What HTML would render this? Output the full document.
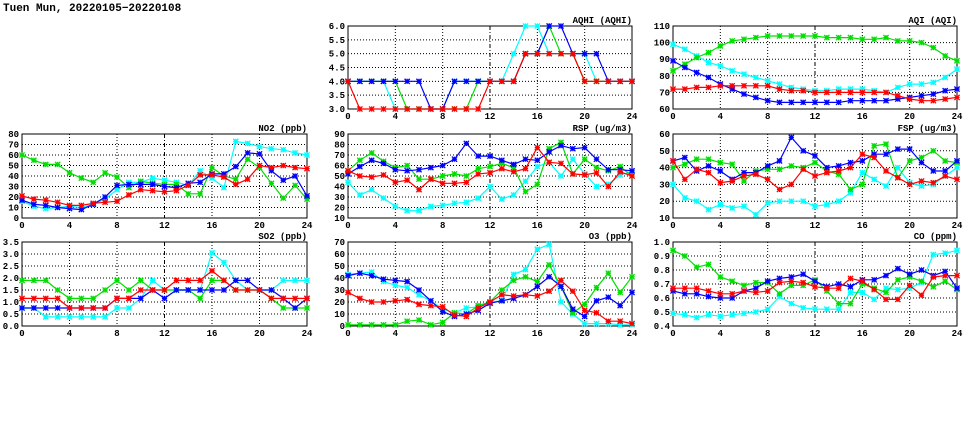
<!DOCTYPE html>
<html><head><meta charset="utf-8"><style>
body{margin:0;background:#fff;}
svg{display:block;font-family:"Liberation Mono",monospace;}
</style></head><body>
<svg id="c" width="975" height="447" viewBox="0 0 975 447" xmlns="http://www.w3.org/2000/svg">
<rect width="975" height="447" fill="#fff"/>
<text x="3" y="11" font-size="11" font-weight="bold">Tuen Mun, 20220105−20220108</text>
</svg>
<script>
const hours=[0,1,2,3,4,5,6,7,8,9,10,11,12,13,14,15,16,17,18,19,20,21,22,23,24];
const xTicks=[0,4,8,12,16,20,24];
const seriesNames=['cyan','green','blue','red'];
const aqhiCyan=[4,4,4,4,3,3,3,3,3,4,4,4,4,4,5,6,6,5,5,5,5,4,4,4,4];
const aqhiGreen=[4,4,4,4,4,3,3,3,3,3,3,4,4,4,4,5,5,6,5,5,4,4,4,4,4];
const aqhiBlue=[4,4,4,4,4,4,4,3,3,4,4,4,4,4,4,5,5,6,6,5,5,5,4,4,4];
const aqhiRed=[4,3,3,3,3,3,3,3,3,3,3,3,4,4,4,5,5,5,5,5,4,4,4,4,4];
const aqiCyan=[99,96,92,88,86,83,81,79,77,75,73,72,71,71,72,72,72,71,70,73,75,75,76,79,84];
const aqiGreen=[83,87,91,94,98,101,102,103,104,104,104,104,104,103,103,103,102,102,103,101,101,100,97,92,89];
const aqiBlue=[89,85,82,79,75,72,69,67,65,64,64,64,64,64,64,65,65,65,65,66,67,68,69,71,72];
const aqiRed=[72,72,73,73,74,74,74,74,74,72,71,71,70,70,70,70,70,70,70,68,66,65,65,66,67];
const no2Cyan=[16,11,9,10,11,10,13,18,27,34,34,38,36,34,31,45,38,29,73,71,68,66,65,62,60];
const no2Green=[60,55,51,51,43,38,34,43,39,29,35,33,32,32,23,23,48,40,37,56,48,33,19,31,18];
const no2Blue=[17,13,12,10,9,8,13,20,31,32,32,32,30,29,33,34,42,42,49,62,61,45,36,40,21];
const no2Red=[21,18,17,15,12,12,14,15,16,22,27,26,25,26,31,41,41,39,32,37,50,48,50,48,47];
const rspCyan=[44,32,37,29,21,17,17,21,22,24,25,29,40,28,32,45,59,63,50,66,52,40,42,51,54];
const rspGreen=[55,65,72,64,58,60,47,47,50,52,50,57,59,62,58,35,42,76,82,52,66,58,55,59,50];
const rspBlue=[52,59,65,62,56,55,56,58,60,66,81,69,69,65,61,66,65,73,79,76,77,66,56,56,55];
const rspRed=[55,50,49,51,44,46,37,47,43,43,44,52,53,57,54,57,77,63,62,52,51,53,40,54,50];
const fspCyan=[30,22,20,15,18,16,17,12,19,20,20,20,17,18,20,25,37,33,29,40,31,29,30,35,40];
const fspGreen=[40,42,45,45,43,42,32,38,39,39,41,40,43,38,36,27,30,53,54,34,44,46,50,44,43];
const fspBlue=[44,46,38,41,38,33,37,37,41,44,58,50,47,40,41,43,44,48,48,51,51,43,38,38,44];
const fspRed=[44,33,39,37,31,32,35,36,33,27,30,39,35,37,38,40,48,46,38,34,30,32,31,35,33];
const so2Cyan=[0.75,0.75,0.38,0.38,0.38,0.38,0.38,0.38,0.75,0.75,1.15,1.9,1.5,1.5,1.5,1.5,3.05,2.65,1.9,1.5,1.5,1.5,1.9,1.9,1.9];
const so2Green=[1.9,1.9,1.9,1.5,1.15,1.15,1.15,1.5,1.9,1.5,1.9,1.5,1.5,1.5,1.5,1.15,1.9,1.9,1.5,1.5,1.5,1.15,0.75,0.75,0.75];
const so2Blue=[0.75,0.75,0.75,0.75,0.75,0.75,0.75,0.75,1.15,1.15,1.15,1.5,1.15,1.5,1.5,1.5,1.5,1.5,1.9,1.9,1.5,1.5,1.15,0.75,1.15];
const so2Red=[1.15,1.15,1.15,1.15,0.75,0.75,0.75,0.75,1.15,1.15,1.5,1.5,1.5,1.9,1.9,1.9,2.3,1.9,1.5,1.5,1.5,1.15,1.15,1.15,1.15];
const o3Cyan=[43,44,45,37,34,32,26,21,14,11,15,16,20,21,43,47,64,68,20,10,2,2,2,1,1];
const o3Green=[1,1,1,1,1,4,5,1,3,11,10,17,20,30,38,41,37,51,33,11,18,32,44,28,41];
const o3Blue=[42,44,42,39,38,37,30,21,12,8,10,13,19,21,23,26,33,41,33,14,8,21,24,17,28];
const o3Red=[28,23,20,20,21,22,18,17,16,9,8,15,20,26,25,26,25,29,38,29,13,11,4,4,2];
const coCyan=[.49,.48,.46,.48,.47,.48,.49,.50,.52,.61,.56,.53,.52,.52,.52,.64,.64,.59,.67,.66,.67,.71,.91,.92,.94];
const coGreen=[.94,.90,.82,.84,.75,.72,.69,.71,.71,.63,.69,.69,.73,.65,.56,.56,.70,.67,.64,.73,.75,.72,.68,.72,.66];
const coBlue=[.65,.63,.63,.61,.60,.60,.65,.67,.72,.74,.75,.77,.72,.68,.70,.68,.73,.73,.76,.81,.77,.80,.76,.79,.67];
const coRed=[.67,.67,.67,.65,.63,.63,.65,.64,.65,.71,.72,.71,.68,.67,.67,.74,.72,.66,.59,.59,.69,.62,.75,.76,.76];
const aqhiTicks=[3,3.5,4,4.5,5,5.5,6];
const aqiTicks=[60,70,80,90,100,110];
const no2Ticks=[0,10,20,30,40,50,60,70,80];
const rspTicks=[10,20,30,40,50,60,70,80,90];
const fspTicks=[10,20,30,40,50,60];
const so2Ticks=[0,0.5,1,1.5,2,2.5,3,3.5];
const o3Ticks=[0,10,20,30,40,50,60,70];
const coTicks=[0.4,0.5,0.6,0.7,0.8,0.9,1.0];

const colors={cyan:'#00ffff',green:'#00e000',blue:'#0000ff',red:'#ff0000'};
const NS='http://www.w3.org/2000/svg';
const svg=document.getElementById('c');
function mk(tag,attrs,parent){const e=document.createElementNS(NS,tag);for(const k in attrs)e.setAttribute(k,attrs[k]);(parent||svg).appendChild(e);return e;}

const panels=[
 {id:'aqhi',title:'AQHI (AQHI)',x0:348,x1:632,y0:26,y1:109,ticks:aqhiTicks,dec:1,data:[aqhiCyan,aqhiGreen,aqhiBlue,aqhiRed]},
 {id:'aqi',title:'AQI (AQI)',x0:673,x1:957,y0:26,y1:109,ticks:aqiTicks,dec:0,data:[aqiCyan,aqiGreen,aqiBlue,aqiRed]},
 {id:'no2',title:'NO2 (ppb)',x0:22,x1:307,y0:134,y1:218,ticks:no2Ticks,dec:0,data:[no2Cyan,no2Green,no2Blue,no2Red]},
 {id:'rsp',title:'RSP (ug/m3)',x0:348,x1:632,y0:134,y1:218,ticks:rspTicks,dec:0,data:[rspCyan,rspGreen,rspBlue,rspRed]},
 {id:'fsp',title:'FSP (ug/m3)',x0:673,x1:957,y0:134,y1:218,ticks:fspTicks,dec:0,data:[fspCyan,fspGreen,fspBlue,fspRed]},
 {id:'so2',title:'SO2 (ppb)',x0:22,x1:307,y0:242,y1:326,ticks:so2Ticks,dec:1,data:[so2Cyan,so2Green,so2Blue,so2Red]},
 {id:'o3',title:'O3 (ppb)',x0:348,x1:632,y0:242,y1:326,ticks:o3Ticks,dec:0,data:[o3Cyan,o3Green,o3Blue,o3Red]},
 {id:'co',title:'CO (ppm)',x0:673,x1:957,y0:242,y1:326,ticks:coTicks,dec:1,data:[coCyan,coGreen,coBlue,coRed]}
];

panels.forEach(p=>{
 const g=mk('g',{});
 
 
 const ymin=p.ticks[0],ymax=p.ticks[p.ticks.length-1];
 const X=h=>p.x0+(h-0)/24*(p.x1-p.x0);
 const Y=v=>p.y1-(v-ymin)/(ymax-ymin)*(p.y1-p.y0);
 // grid
 xTicks.forEach(t=>{
  if(t>0&&t<24){const l=mk('line',{x1:X(t),x2:X(t),y1:p.y0,y2:p.y1,stroke:'#000','stroke-width':1,'stroke-dasharray':t===12?'4,2,1,2':'1,2'},g);
   
   }
  const tx=mk('text',{x:X(t),y:p.y1+10,'font-size':9,'font-weight':'bold','text-anchor':'middle'},g);
  tx.textContent=t;
  
  
 });
 p.ticks.forEach(t=>{
  if(t>ymin&&t<ymax){const l=mk('line',{x1:p.x0,x2:p.x1,y1:Y(t),y2:Y(t),stroke:'#000','stroke-width':1,'stroke-dasharray':'1,2'},g);
   
   }
  const tx=mk('text',{x:p.x0-3,y:Y(t)+3,'font-size':9,'font-weight':'bold','text-anchor':'end'},g);
  tx.textContent=t.toFixed(p.dec);
  
  
 });
 const fr=mk('rect',{x:p.x0,y:p.y0,width:p.x1-p.x0,height:p.y1-p.y0,fill:'none',stroke:'#000','stroke-width':1},g);
 
 
 const tt=mk('text',{x:p.x1,y:p.y0-3,'font-size':9,'font-weight':'bold','text-anchor':'end'},g);
 tt.textContent=p.title;
 
 
 p.data.forEach((arr,si)=>{
  const c=colors[seriesNames[si]];
  const pts=arr.map((v,i)=>X(hours[i]).toFixed(1)+','+Y(v).toFixed(1)).join(' ');
  const pl=mk('polyline',{points:pts,fill:'none',stroke:c,'stroke-width':1.2},g);
  
  
  arr.forEach((v,i)=>{
   const cx=X(hours[i]),cy=Y(v),r=2.6;
   const m=mk('path',{d:`M${cx-r},${cy-r}L${cx+r},${cy+r}M${cx-r},${cy+r}L${cx+r},${cy-r}M${cx-r},${cy}L${cx+r},${cy}M${cx},${cy-r}L${cx},${cy+r}`,stroke:c,'stroke-width':1.3,fill:'none'},g);
   
   
  });
 });
});
</script>
</body></html>
